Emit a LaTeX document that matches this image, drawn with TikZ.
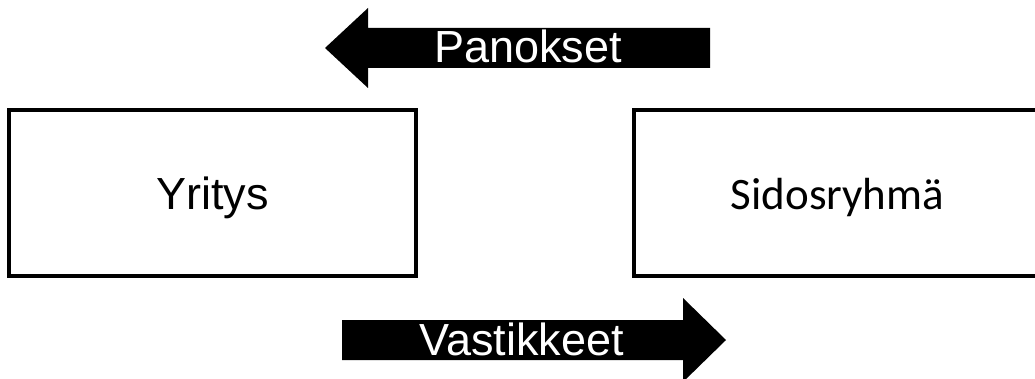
\documentclass[tikz,border=0pt]{standalone}
\usepackage{fontspec}
\setmainfont{Liberation Sans}
\newfontfamily\carlito{Carlito}
\tikzset{
  box/.style={draw=black, line width=4pt, inner sep=0pt, fill=white},
  lbl/.style={anchor=base, inner sep=0pt, font=\fontsize{45}{54}\selectfont},
  arrlbl/.style={lbl, text=white},
  bigarrow/.style={fill=black}
}
\begin{document}
\begin{tikzpicture}[x=1pt,y=-1pt]
\useasboundingbox (0,0) rectangle (1035,379);
\clip (0,0) rectangle (1035,379);
\fill[white] (0,0) rectangle (1035,379);
% boxes
\node[box, minimum width=407pt, minimum height=166pt] (yritys) at (212.5,193) {};
\node[box, minimum width=411pt, minimum height=166pt] (sidos) at (839.5,193) {};
\node[lbl] (yritystxt) at (212.5,210) {Yritys};
\node[lbl, font=\carlito\fontsize{45}{54}\selectfont] (sidostxt) at (837.5,210) {Sidosryhmä};
% top arrow (left)
\fill[bigarrow] (325,48) -- (368,8) -- (368,28) -- (710,28) -- (710,68) -- (368,68) -- (368,88) -- cycle;
\node[arrlbl] (panokset) at (528,63) {Panokset};
% bottom arrow (right)
\fill[bigarrow] (726,340) -- (683,298) -- (683,320) -- (342,320) -- (342,360) -- (683,360) -- (683,382) -- cycle;
\node[arrlbl] (vastikkeet) at (521.5,355) {Vastikkeet};
\end{tikzpicture}
\end{document}
